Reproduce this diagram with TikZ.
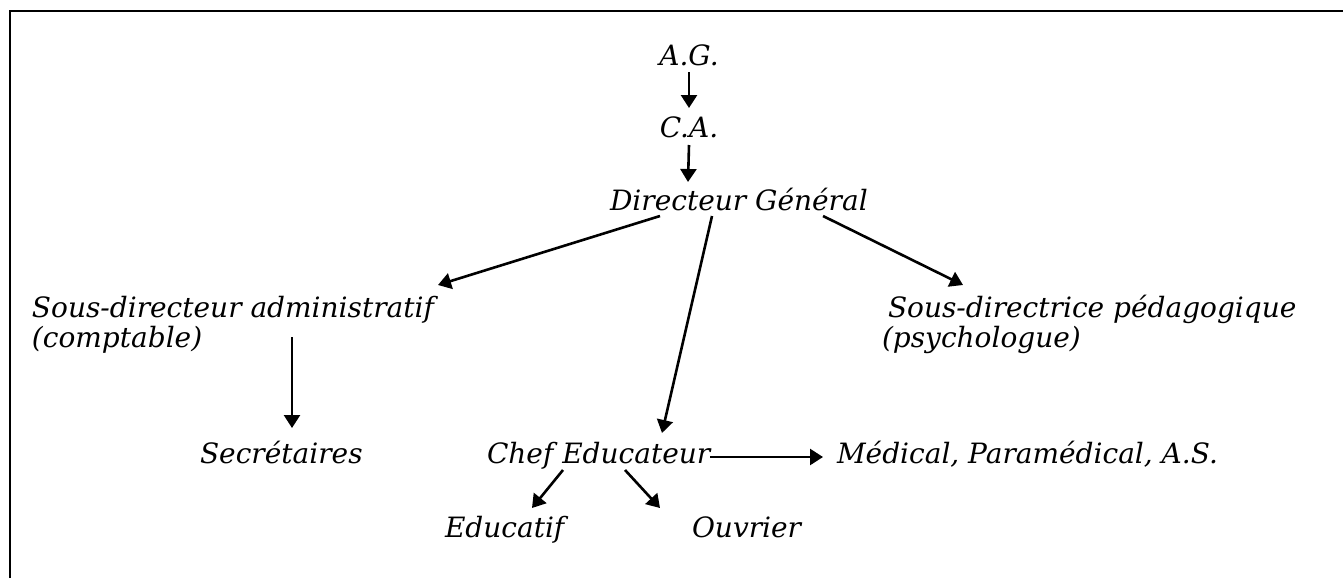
\documentclass[tikz,border=0pt]{standalone}
\usepackage{fontspec}
\setmainfont{DejaVu Serif}
\usetikzlibrary{arrows.meta,calc}
\begin{document}
\begin{tikzpicture}[x=0.5pt,y=-0.5pt,
  lbl/.style={inner sep=0pt,outer sep=0pt,font=\fontsize{14}{16}\selectfont\itshape},
  arr/.style={line width=1.3pt,-{Triangle[length=6.5pt,width=8pt]}}]
\useasboundingbox (0,0) rectangle (1343,578);
\draw[line width=1pt] (10,578) -- (10,11) -- (1343,11);
\node[lbl,anchor=base] (ag) at (689,65) {A.G.};
\node[lbl,anchor=base] (ca) at (689,137) {C.A.};
\node[lbl,anchor=base west] (dg) at (610,210) {Directeur Général};
\node[lbl,anchor=base west] (sda) at (32,317) {Sous-directeur administratif};
\node[lbl,anchor=base west] (sdab) at (32,347) {(comptable)};
\node[lbl,anchor=base west] (sdp) at (888,317) {Sous-directrice pédagogique};
\node[lbl,anchor=base west] (sdpb) at (882,347) {(psychologue)};
\node[lbl,anchor=base west] (sec) at (200,463) {Secrétaires};
\node[lbl,anchor=base west] (chef) at (487,463) {Chef Educateur};
\node[lbl,anchor=base west] (med) at (837,463) {Médical, Paramédical, A.S.};
\node[lbl,anchor=base west] (edu) at (445,537) {Educatif};
\node[lbl,anchor=base west] (ouv) at (692,537) {Ouvrier};
\draw[arr] ($(ag.base)+(0,7)$) -- ($(ca.base)+(0,-29)$);
\draw[arr] ($(ca.base)+(0,8)$) -- ($(dg.base west)+(78,-28)$);
\draw[arr] ($(dg.base west)+(50,6)$) -- ($(sda.base west)+(406,-32)$);
\draw[arr] ($(dg.base west)+(213,6)$) -- ($(sdp.base west)+(75,-32)$);
\draw[arr] ($(dg.base west)+(102,6)$) -- ($(chef.base west)+(175,-30)$);
\draw[arr] ($(sda.base west)+(260,20)$) -- ($(sec.base west)+(92,-35)$);
\draw[arr] ($(chef.base west)+(223,-6)$) -- ($(med.base west)+(-14,-6)$);
\draw[arr] ($(chef.base west)+(76,7)$) -- ($(edu.base west)+(87,-29)$);
\draw[arr] ($(chef.base west)+(138,7)$) -- ($(ouv.base west)+(-32,-29)$);
\end{tikzpicture}
\end{document}
